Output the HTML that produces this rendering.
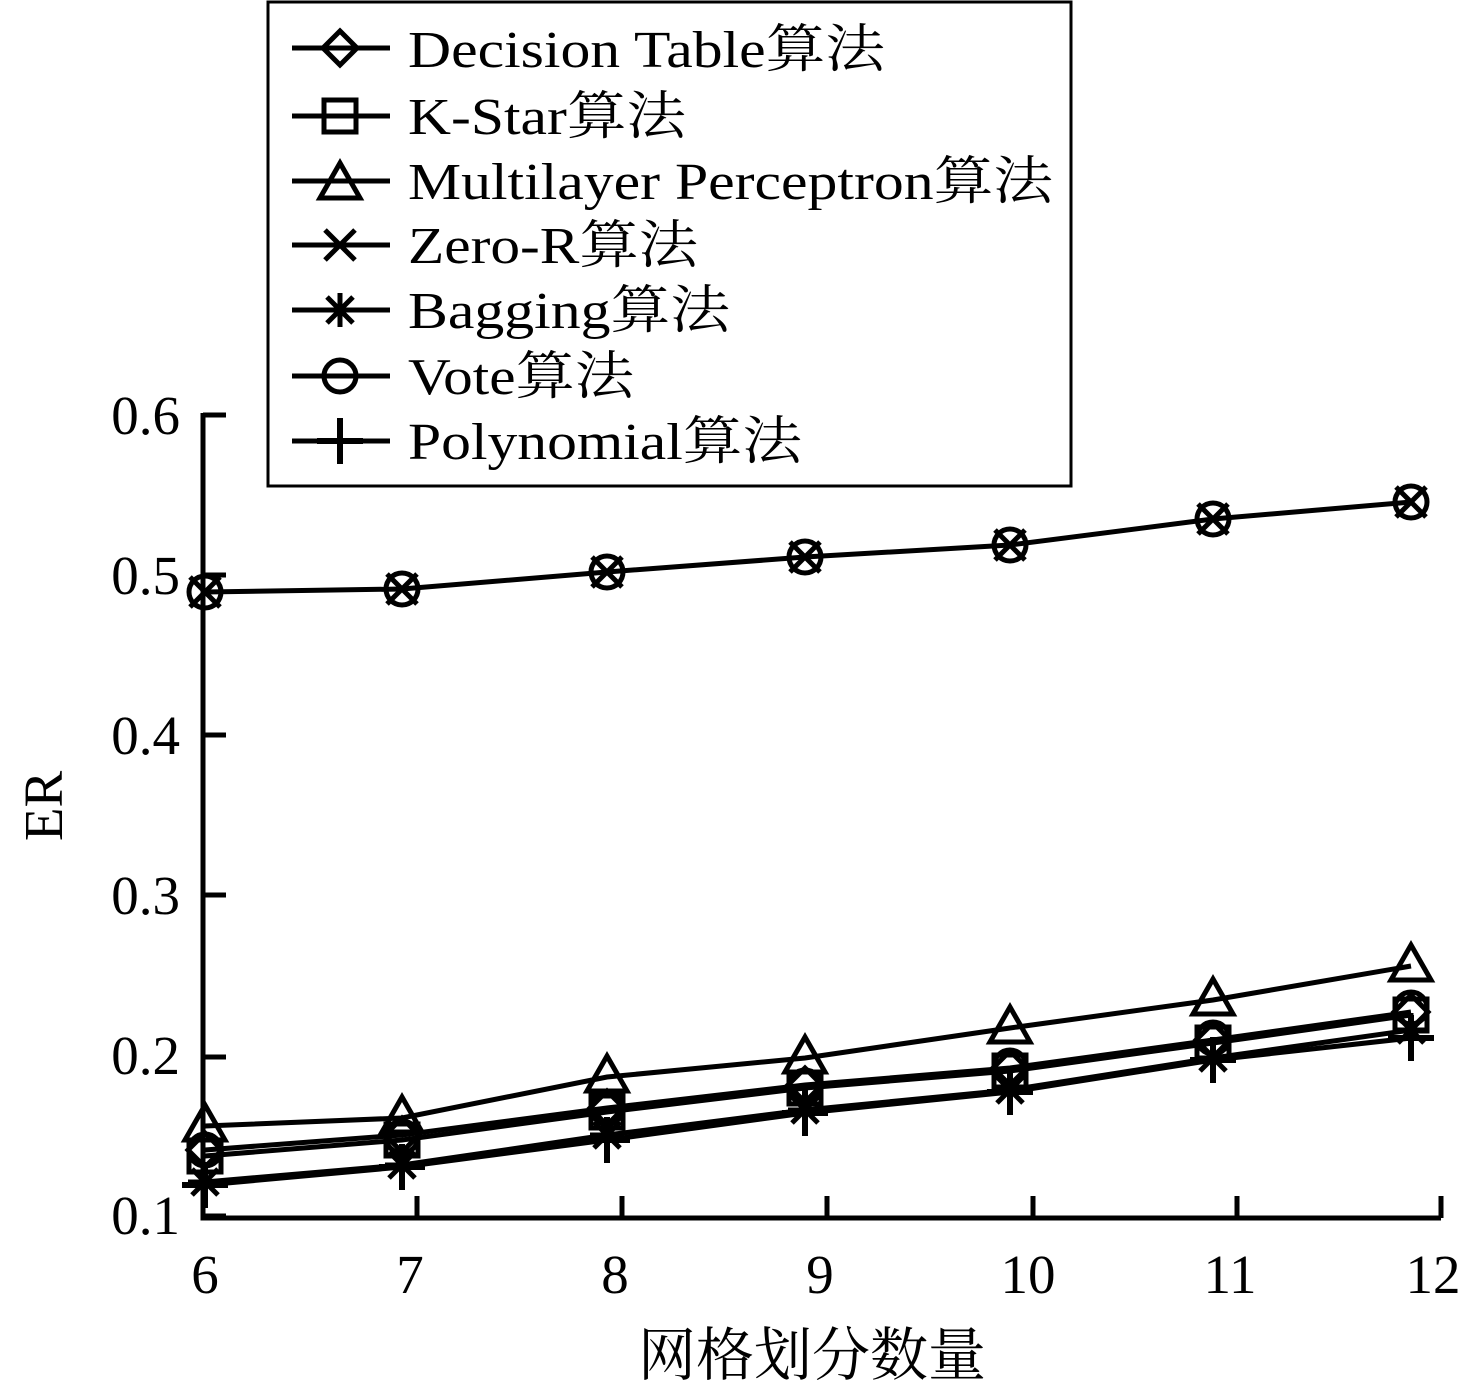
<!DOCTYPE html><html><head><meta charset="utf-8"><style>body{margin:0;background:#fff}svg{display:block}text{font-family:"Liberation Serif","Noto Serif CJK SC",serif;fill:#000}</style></head><body>
<svg width="1473" height="1389" viewBox="0 0 1473 1389" xmlns="http://www.w3.org/2000/svg">
<defs>
<g id="dia"><path d="M0,-17 L17,0 L0,17 L-17,0Z" fill="none" stroke="#000" stroke-width="5"/></g>
<g id="sq"><rect x="-16" y="-16" width="32" height="32" fill="none" stroke="#000" stroke-width="5"/></g>
<g id="tri"><path d="M0,-21 L20,14 L-20,14Z" fill="none" stroke="#000" stroke-width="5"/></g>
<g id="x"><path d="M-15,-15L15,15M15,-15L-15,15" stroke="#000" stroke-width="5"/></g>
<g id="st"><path d="M-17,0H17M0,-17V17M-13,-13L13,13M13,-13L-13,13" stroke="#000" stroke-width="5"/></g>
<g id="ci"><circle r="16" fill="none" stroke="#000" stroke-width="5"/></g>
<g id="pl"><path d="M-23,0H23M0,-23V23" stroke="#000" stroke-width="6"/></g>
</defs>
<g stroke="#000" stroke-width="5" fill="none">
<path d="M203,413V1218H1441"/>
<path d="M203,415H226M203,575H226M203,735H226M203,895H226M203,1057H226M203,1216H226"/>
<path d="M417,1216V1196M622,1216V1196M827,1216V1196M1033,1216V1196M1237,1216V1196M1441,1218V1196"/>
</g>
<g font-size="55" text-anchor="end"><text x="180" y="434">0.6</text><text x="180" y="594">0.5</text><text x="180" y="754">0.4</text><text x="180" y="914">0.3</text><text x="180" y="1074">0.2</text><text x="180" y="1234">0.1</text></g>
<g font-size="55" text-anchor="middle"><text x="205" y="1293">6</text><text x="410" y="1293">7</text><text x="615" y="1293">8</text><text x="820" y="1293">9</text><text x="1028" y="1293">10</text><text x="1230" y="1293">11</text><text x="1433" y="1293">12</text>
<text x="812" y="1375" font-size="58">网格划分数量</text>
<text x="62" y="806" transform="rotate(-90 62 806)">ER</text></g>
<g fill="none" stroke="#000" stroke-width="5">
<polyline points="205,1126 402,1118 607,1077 805,1058 1010,1028 1213,1000 1411,966"/>
<polyline points="205,1150 402,1135 607,1108 805,1085 1010,1068 1213,1040 1411,1012"/>
<polyline points="205,1156 402,1140 607,1112 805,1088 1010,1071 1213,1043 1411,1015"/>
<polyline points="205,1182 402,1165 607,1135 805,1110 1010,1090 1213,1058 1411,1030"/>
<polyline points="205,1185 402,1167 607,1140 805,1113 1010,1092 1213,1060 1411,1038"/>
<polyline points="205,592 402,589 607,572 805,557 1010,545 1213,519 1411,502"/>
</g>
<use href="#tri" x="205" y="1126"/><use href="#tri" x="402" y="1118"/><use href="#tri" x="607" y="1077"/><use href="#tri" x="805" y="1058"/><use href="#tri" x="1010" y="1028"/><use href="#tri" x="1213" y="1000"/><use href="#tri" x="1411" y="966"/>
<use href="#dia" x="205" y="1150"/><use href="#dia" x="402" y="1135"/><use href="#dia" x="607" y="1108"/><use href="#dia" x="805" y="1085"/><use href="#dia" x="1010" y="1068"/><use href="#dia" x="1213" y="1040"/><use href="#dia" x="1411" y="1012"/>
<use href="#sq" x="205" y="1156"/><use href="#sq" x="402" y="1140"/><use href="#sq" x="607" y="1112"/><use href="#sq" x="805" y="1088"/><use href="#sq" x="1010" y="1071"/><use href="#sq" x="1213" y="1043"/><use href="#sq" x="1411" y="1015"/>
<use href="#ci" x="205" y="1150"/><use href="#ci" x="402" y="1137"/><use href="#ci" x="607" y="1108"/><use href="#ci" x="805" y="1086"/><use href="#ci" x="1010" y="1066"/><use href="#ci" x="1213" y="1038"/><use href="#ci" x="1411" y="1008"/>
<use href="#st" x="205" y="1182"/><use href="#st" x="402" y="1165"/><use href="#st" x="607" y="1135"/><use href="#st" x="805" y="1110"/><use href="#st" x="1010" y="1090"/><use href="#st" x="1213" y="1058"/><use href="#st" x="1411" y="1030"/>
<use href="#pl" x="205" y="1185"/><use href="#pl" x="402" y="1167"/><use href="#pl" x="607" y="1140"/><use href="#pl" x="805" y="1113"/><use href="#pl" x="1010" y="1092"/><use href="#pl" x="1213" y="1060"/><use href="#pl" x="1411" y="1038"/>
<use href="#ci" x="205" y="592"/><use href="#ci" x="402" y="589"/><use href="#ci" x="607" y="572"/><use href="#ci" x="805" y="557"/><use href="#ci" x="1010" y="545"/><use href="#ci" x="1213" y="519"/><use href="#ci" x="1411" y="502"/>
<use href="#x" x="205" y="592"/><use href="#x" x="402" y="589"/><use href="#x" x="607" y="572"/><use href="#x" x="805" y="557"/><use href="#x" x="1010" y="545"/><use href="#x" x="1213" y="519"/><use href="#x" x="1411" y="502"/>
<rect x="268" y="2" width="803" height="484" fill="#fff" stroke="#000" stroke-width="3"/>
<g stroke="#000" stroke-width="5"><path d="M292,48H390M292,116H390M292,181H390M292,245H390M292,310H390M292,376H390M292,441H390"/></g>
<use href="#dia" x="340" y="48"/><use href="#sq" x="340" y="116"/><use href="#tri" x="340" y="184"/><use href="#x" x="340" y="245"/><use href="#st" x="340" y="310"/><use href="#ci" x="340" y="376"/><use href="#pl" x="340" y="441"/>
<g font-size="52"><text x="408" y="67" textLength="477" lengthAdjust="spacingAndGlyphs">Decision Table算法</text><text x="408" y="134" textLength="278" lengthAdjust="spacingAndGlyphs">K-Star算法</text><text x="408" y="199" textLength="645" lengthAdjust="spacingAndGlyphs">Multilayer Perceptron算法</text><text x="408" y="263" textLength="290" lengthAdjust="spacingAndGlyphs">Zero-R算法</text><text x="408" y="328" textLength="322" lengthAdjust="spacingAndGlyphs">Bagging算法</text><text x="408" y="394" textLength="226" lengthAdjust="spacingAndGlyphs">Vote算法</text><text x="408" y="459" textLength="394" lengthAdjust="spacingAndGlyphs">Polynomial算法</text></g>
</svg></body></html>
